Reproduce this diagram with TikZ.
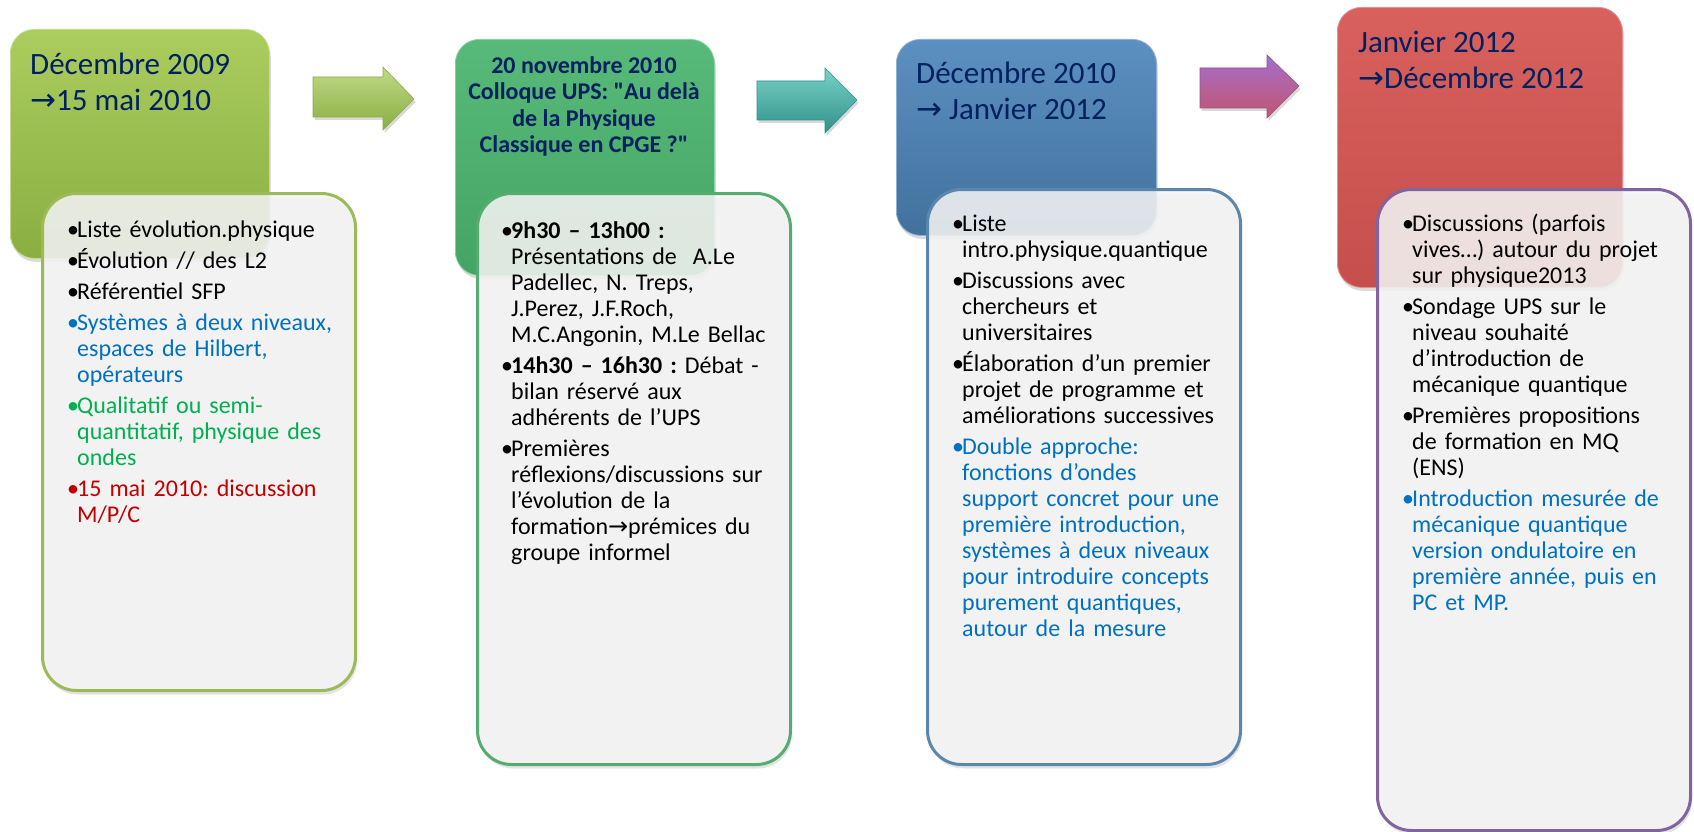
\documentclass[tikz,border=0pt]{standalone}
\usepackage{fontspec}
\setmainfont{Carlito}
\newfontfamily\symfont{DejaVu Sans}
% same face without the TeX input mapping, for straight quotes
\newfontfamily\rawfont{Carlito}
\usetikzlibrary{shadows}

% palette
\definecolor{titlenavy}{HTML}{002060}
\definecolor{itemblue}{HTML}{0070C0}
\definecolor{itemgreen}{HTML}{00B050}
\definecolor{itemred}{HTML}{C00000}
\definecolor{notefill}{HTML}{F5F5F5}
\definecolor{limetop}{HTML}{ABCD5E}
\definecolor{limebot}{HTML}{8AAE42}
\definecolor{limeedge}{HTML}{9BBB59}
\definecolor{greentop}{HTML}{58BA7A}
\definecolor{greenbot}{HTML}{44A463}
\definecolor{greenedge}{HTML}{55AC70}
\definecolor{bluetop}{HTML}{5C90C2}
\definecolor{bluebot}{HTML}{42719C}
\definecolor{blueedge}{HTML}{5B87AD}
\definecolor{redtop}{HTML}{D8615E}
\definecolor{redbot}{HTML}{C54F4C}
\definecolor{purpleedge}{HTML}{8064A2}
\definecolor{tealtop}{HTML}{78D2C8}
\definecolor{tealmid}{HTML}{4CB4AA}
\definecolor{tealbot}{HTML}{30918A}
\definecolor{violettop}{HTML}{A56ECD}
\definecolor{violetmid}{HTML}{AA64AA}
\definecolor{violetbot}{HTML}{C3556E}
\definecolor{violetedge}{HTML}{96508C}

% arrow glyph taken from DejaVu Sans
\newcommand\toarrow{{\symfont →}}
% straight double quote
\newcommand\sq{{\rawfont "}}
% one bullet item with hanging indent; lines are separated by \newline
\newcommand\bitem[2][black]{\par\hangindent=10pt\hangafter=1\noindent
  {\color{#1}\makebox[10pt][l]{•}#2}\par}
\newcommand\igap{\vspace{5pt}}

\tikzset{
  phasebox/.style={anchor=north west, inner sep=0pt, rounded corners=24pt,
    line width=0.8pt,
    drop shadow={opacity=0.28, shadow xshift=1.5pt, shadow yshift=-3.5pt}},
  notebox/.style={anchor=north west, inner sep=0pt, rounded corners=34pt,
    line width=3pt, fill=notefill, fill opacity=0.86,
    drop shadow={opacity=0.22, shadow xshift=1.5pt, shadow yshift=-4pt}},
  phasetitle/.style={anchor=north west, inner sep=0pt, align=left,
    text=titlenavy, font=\fontsize{31}{36}\selectfont},
  notetext/.style={anchor=north west, inner sep=0pt, text width=300pt,
    align=left, font=\fontsize{24}{26}\selectfont\frenchspacing},
  blockarrow/.style={line width=0.6pt,
    drop shadow={opacity=0.3, shadow xshift=1.5pt, shadow yshift=-3pt}},
}

\begin{document}
\begin{tikzpicture}[x=1pt,y=1pt]
\useasboundingbox (0,0) rectangle (1694,-832);
\fill[white] (0,0) rectangle (1694,-832);

% coloured phase boxes
\node[phasebox, top color=limetop, bottom color=limebot, draw=limetop!70!white,
  minimum width=259pt, minimum height=229pt] (p1) at (10,-29) {};
\node[phasebox, top color=greentop, bottom color=greenbot, draw=greentop!70!white,
  minimum width=259pt, minimum height=236pt] (p2) at (455,-39) {};
\node[phasebox, top color=bluetop, bottom color=bluebot, draw=bluetop!70!white,
  minimum width=260pt, minimum height=196pt] (p3) at (896,-39) {};
\node[phasebox, top color=redtop, bottom color=redbot, draw=redtop!70!white,
  minimum width=285pt, minimum height=280pt] (p4) at (1337,-7) {};

% block arrows between the phases
\path[blockarrow, top color=limetop!75!white, middle color=limetop, bottom color=limebot,
  draw=limebot]
  (313,-77) -- (383,-77) -- (383,-67) -- (414,-99) -- (383,-130) -- (383,-117) -- (313,-117) -- cycle;
\path[blockarrow, top color=tealtop, middle color=tealmid, bottom color=tealbot, draw=tealbot]
  (757,-81) -- (825,-81) -- (825,-68) -- (857,-100) -- (825,-133) -- (825,-120) -- (757,-120) -- cycle;
\path[blockarrow, top color=violettop, middle color=violetmid, bottom color=violetbot, draw=violetedge]
  (1200,-68) -- (1267,-68) -- (1267,-55) -- (1299,-86) -- (1267,-118) -- (1267,-108) -- (1200,-108) -- cycle;

% titles of the phases
\node[phasetitle] (t1) at (30,-51) {\rule{0pt}{23pt}Décembre 2009\\\toarrow15 mai 2010};
\node[phasetitle, anchor=north, align=center, font=\fontsize{24}{26.5}\selectfont\bfseries]
  (t2) at (584,-55) {\rule{0pt}{18pt}20 novembre 2010\\Colloque UPS: \sq Au delà\\de la Physique\\Classique en CPGE ?\sq};
\node[phasetitle] (t3) at (916,-60) {\rule{0pt}{23pt}Décembre 2010\\\toarrow{} Janvier 2012};
\node[phasetitle] (t4) at (1358,-29) {\rule{0pt}{23pt}Janvier 2012\\\toarrow Décembre 2012};

% note cards
\node[notebox, draw=limeedge, minimum width=313pt, minimum height=497pt] (n1) at (41,-192) {};
\node[notebox, draw=greenedge, minimum width=313pt, minimum height=571pt] (n2) at (476,-192) {};
\node[notebox, draw=blueedge, minimum width=313pt, minimum height=575pt] (n3) at (926,-188) {};
\node[notebox, draw=purpleedge, minimum width=313pt, minimum height=641pt] (n4) at (1376,-188) {};

% card contents
\node[notetext] (x1) at (67,-211) {%
\bitem{\rule{0pt}{20pt}Liste évolution.physique}\igap
\bitem{Évolution // des L2}\igap
\bitem{Référentiel SFP}\igap
\bitem[itemblue]{Systèmes à deux niveaux,\newline espaces de Hilbert,\newline opérateurs}\igap
\bitem[itemgreen]{Qualitatif ou semi-\newline quantitatif, physique des\newline ondes}\igap
\bitem[itemred]{15 mai 2010: discussion\newline M/P/C}};

\node[notetext] (x2) at (501,-212) {%
\bitem{\rule{0pt}{20pt}\textbf{9h30 – 13h00 :}\newline Présentations de \ A.Le\newline Padellec, N. Treps,\newline J.Perez, J.F.Roch,\newline M.C.Angonin, M.Le Bellac}\igap
\bitem{\textbf{14h30 – 16h30 :} Débat -\newline bilan réservé aux\newline adhérents de l’UPS}\igap
\bitem{Premières\newline réflexions/discussions sur\newline l’évolution de la\newline formation\toarrow prémices du\newline groupe informel}};

\node[notetext] (x3) at (952,-205) {%
\bitem{\rule{0pt}{20pt}Liste\newline intro.physique.quantique}\igap
\bitem{Discussions avec\newline chercheurs et\newline universitaires}\igap
\bitem{Élaboration d’un premier\newline projet de programme et\newline améliorations successives}\igap
\bitem[itemblue]{Double approche:\newline fonctions d’ondes\newline support concret pour une\newline première introduction,\newline systèmes à deux niveaux\newline pour introduire concepts\newline purement quantiques,\newline autour de la mesure}};

\node[notetext] (x4) at (1402,-205) {%
\bitem{\rule{0pt}{20pt}Discussions (parfois\newline vives…) autour du projet\newline sur physique2013}\igap
\bitem{Sondage UPS sur le\newline niveau souhaité\newline d’introduction de\newline mécanique quantique}\igap
\bitem{Premières propositions\newline de formation en MQ\newline (ENS)}\igap
\bitem[itemblue]{Introduction mesurée de\newline mécanique quantique\newline version ondulatoire en\newline première année, puis en\newline PC et MP.}};
\end{tikzpicture}
\end{document}
